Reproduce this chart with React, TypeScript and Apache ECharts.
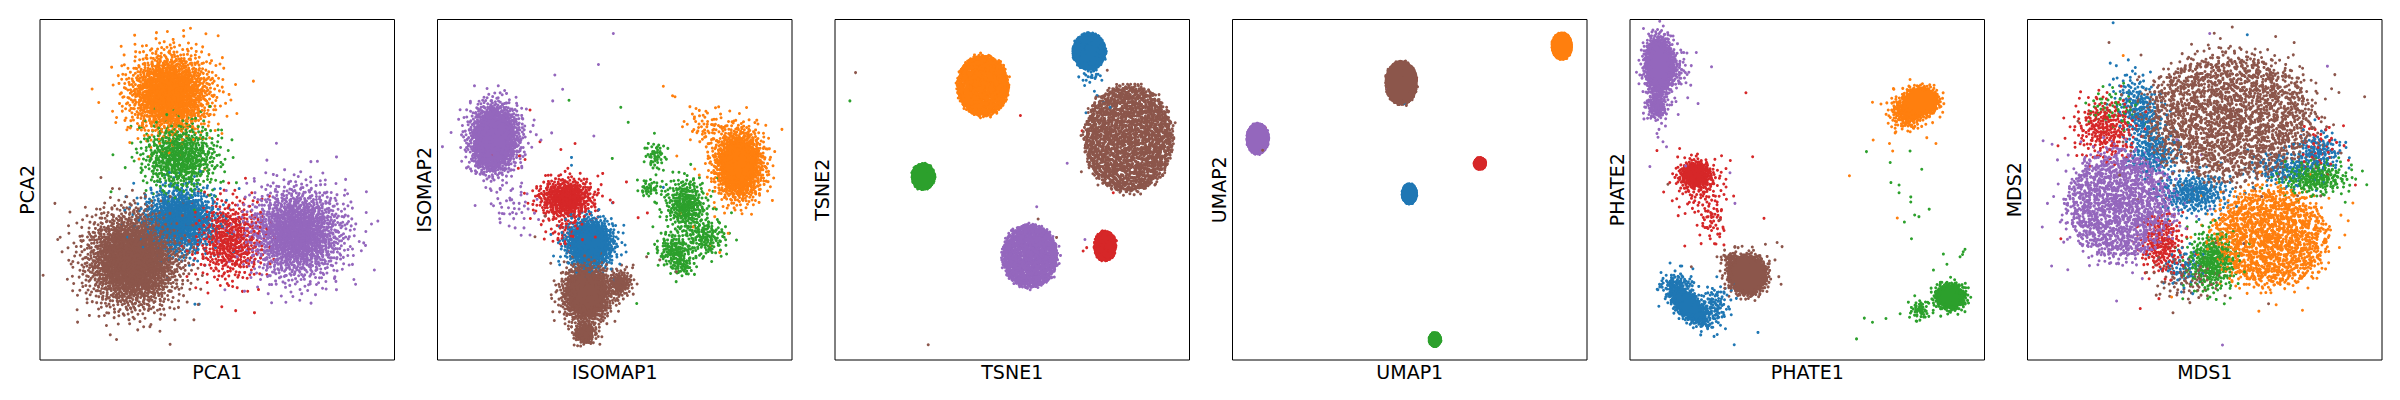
import { useEffect, useRef } from 'react';
import * as echarts from 'echarts';

// tab10 colours, one per class
const classColors = ['#1f77b4', '#ff7f0e', '#2ca02c', '#d62728', '#9467bd', '#8c564b'];
const xNames = ['PCA1', 'ISOMAP1', 'TSNE1', 'UMAP1', 'PHATE1', 'MDS1'];
const yNames = ['PCA2', 'ISOMAP2', 'TSNE2', 'UMAP2', 'PHATE2', 'MDS2'];

// cluster (axes run 0..100 in each panel):
// [class, cx, cy, sx, sy, count, kind (0 gaussian, >0 filled disc with that edge softness), rotation deg]
type Blob = [number, number, number, number, number, number, number, number?];
// single stray points: [class, x, y]
type Stray = [number, number, number];

const pcaBlobs: Blob[] = [
  [5, 26.3, 29.4, 6.6, 7.0, 2400, 0],
  [1, 36.7, 78.3, 5.8, 6.0, 1700, 0],
  [4, 72.4, 37.2, 6.8, 6.8, 1700, 0],
  [0, 39.5, 41.1, 5.2, 4.8, 1100, 0],
  [2, 39.5, 59.7, 5.4, 5.0, 700, 0],
  [3, 53.6, 35.2, 5.0, 6.0, 550, 0],
];
const pcaStray: Stray[] = [
  [5, 4.2, 46], [5, 5, 35.4], [5, 36.7, 4.6], [4, 95.3, 40.8], [4, 64, 58.7],
  [1, 60.2, 81.9], [1, 26.7, 95.4], [1, 46.8, 95.8], [3, 55.2, 14.5], [3, 60.5, 13.9],
  [0, 43.7, 16.4], [0, 44.9, 16.4],
];

const isomapBlobs: Blob[] = [
  [4, 16.2, 65.6, 3.5, 4.8, 1500, 0],
  [4, 14.8, 59.7, 2.5, 3.0, 200, 0],
  [4, 21.4, 45.0, 3.5, 3.5, 40, 0],
  [3, 36.3, 47.5, 4.0, 3.0, 550, 0],
  [3, 36.4, 38.2, 3.0, 3.0, 60, 0],
  [5, 42.1, 19.6, 3.2, 4.0, 1500, 0],
  [5, 51.5, 22.5, 1.8, 2.0, 150, 0],
  [5, 41.6, 7.8, 1.5, 1.5, 200, 0],
  [0, 43.0, 34.3, 3.3, 3.5, 1100, 0],
  [2, 70.0, 45.5, 3.0, 4.0, 320, 0],
  [2, 67.0, 32.3, 2.5, 2.5, 150, 0],
  [2, 69.0, 27.5, 1.8, 1.6, 50, 0],
  [2, 75.5, 36.0, 3.2, 3.0, 160, 0],
  [2, 61.5, 60.0, 1.5, 2.2, 50, 0],
  [2, 60.0, 50.5, 1.8, 1.5, 40, 0],
  [1, 85.0, 57.5, 3.4, 5.0, 1500, 0],
  [1, 75.9, 68.5, 3.0, 3.0, 60, 0],
];
const isomapStray: Stray[] = [
  [4, 49.6, 95.9], [4, 45.4, 86.8], [4, 33.1, 83.7], [4, 35.3, 79.5], [4, 32.5, 76.1],
  [4, 44.1, 65.8], [4, 29.2, 64.6], [4, 32.2, 66.7], [4, 17.7, 50.1], [4, 15.8, 45.3],
  [4, 20.5, 47], [4, 21.9, 38.8], [4, 24.4, 38.8], [4, 26.1, 36.7],
  [3, 28.9, 64.1], [3, 34.8, 61.8], [3, 38.8, 63.6], [3, 46.6, 54.8], [3, 53.3, 52.3],
  [3, 59.2, 43.2], [3, 56.6, 41.8], [3, 26.1, 73.4], [3, 15.5, 60.5], [3, 23.1, 59.9], [3, 24.7, 58.9],
  [2, 37.1, 76.3], [2, 51.7, 74.2], [2, 53.8, 69.8], [2, 49.3, 59.2], [2, 56.2, 16.6], [2, 62, 31.5], [2, 64, 35],
  [1, 63.7, 80.4], [1, 66.3, 77.6], [1, 67, 77.3], [1, 71.2, 74.4], [1, 69.1, 68.5], [1, 68.4, 43],
  [1, 72.1, 39.1], [1, 76.8, 33.3], [1, 79.6, 31.6], [1, 82, 37.2], [1, 78.2, 42.1],
  [5, 30.3, 42.3], [5, 27.5, 36.2], [5, 32.2, 18.1], [5, 55.2, 27.9], [5, 59, 30.3], [5, 62.7, 29.4], [5, 67.4, 25.9],
  [0, 37.8, 59.5], [0, 37.8, 57.2], [0, 63.7, 50.7],
];

const tsneBlobs: Blob[] = [
  [0, 71.7, 90.6, 4.6, 5.3, 1100, 0.04],
  [0, 72.3, 83.5, 1.8, 1.6, 25, 0],
  [1, 41.7, 80.6, 7.2, 8.9, 1700, 0.04],
  [5, 82.8, 65.0, 12.5, 15.8, 2400, 0.04],
  [2, 24.9, 53.9, 3.2, 3.8, 700, 0.04],
  [4, 55.0, 30.5, 7.8, 9.3, 1700, 0.04],
  [3, 76.2, 33.5, 3.1, 4.4, 550, 0.04],
];
const tsneStray: Stray[] = [
  [5, 5.8, 84.4], [5, 26.3, 4.5], [5, 57.3, 41.4], [5, 76.8, 85.1], [5, 69.5, 55.3], [5, 62.5, 36],
  [2, 4.2, 76.1],
  [3, 52.3, 71.8], [3, 70, 32], [3, 78.5, 49.1], [3, 69.7, 67.3], [3, 71, 33],
  [4, 65.5, 57.8], [4, 56.9, 45], [4, 70.5, 35.4], [4, 63.2, 33.4],
  [0, 77.6, 74.2], [0, 70.8, 72.6], [0, 73.9, 77.7], [0, 75.8, 75.6],
];

const umapBlobs: Blob[] = [
  [1, 92.9, 92.2, 2.7, 3.8, 1700, 0.04],
  [5, 47.6, 81.4, 4.3, 6.2, 2400, 0.04],
  [4, 7.1, 65.0, 3.0, 4.4, 1700, 0.04],
  [3, 69.8, 57.7, 1.6, 1.7, 550, 0.04],
  [0, 49.9, 48.8, 2.0, 2.9, 1100, 0.04],
  [2, 57.1, 6.0, 1.6, 2.0, 700, 0.04],
];
const umapStray: Stray[] = [
  [0, 47.9, 75.8], [0, 49.5, 76.2], [0, 48.5, 75.3], [0, 46.5, 76.5],
  [3, 51.9, 82.5], [3, 9.2, 68.3], [5, 8.5, 61.6], [4, 43.7, 79.5],
];

const phateBlobs: Blob[] = [
  [4, 8.2, 86.5, 1.9, 4.0, 1300, 0],
  [4, 7.5, 74.5, 1.5, 2.0, 150, 0],
  [4, 13.0, 85.0, 2.0, 3.0, 70, 0],
  [3, 18.5, 54.5, 2.3, 2.0, 380, 0],
  [3, 20.0, 50.0, 4.0, 4.0, 100, 0],
  [3, 23.0, 41.0, 1.8, 3.5, 50, 0],
  [5, 33.1, 25.0, 2.2, 2.3, 2400, 0],
  [5, 28.2, 29.8, 1.5, 1.0, 40, 0],
  [0, 16.5, 16.0, 3.5, 1.6, 700, 0, -45],
  [0, 24.0, 16.0, 2.0, 3.0, 100, 0],
  [0, 13.5, 22.5, 2.5, 1.6, 80, 0],
  [1, 82.2, 76.0, 2.0, 1.7, 1300, 0],
  [1, 78.5, 73.0, 2.5, 2.5, 300, 0],
  [2, 90.3, 18.6, 2.0, 1.8, 620, 0],
  [2, 81.8, 14.7, 1.5, 1.5, 50, 0],
];
const phateStray: Stray[] = [
  [4, 18.7, 90.3], [4, 23, 86.1], [4, 19.2, 75.3], [4, 13.6, 72.1], [4, 8.9, 69.5], [4, 10, 68.7],
  [4, 7.6, 66.5], [4, 7.9, 65.4], [4, 9.3, 64.1], [4, 10.3, 62.6], [4, 5.6, 56.8], [4, 29.6, 46],
  [4, 28.2, 55], [4, 15.7, 57],
  [3, 32.7, 78.5], [3, 7.6, 61.5], [3, 34.6, 59.7], [3, 28.3, 58.6], [3, 27.2, 47.2], [3, 37.8, 41.6],
  [3, 13.6, 42.4], [3, 19.7, 36.7], [3, 22, 38.6], [3, 26.3, 38.6], [3, 25.3, 36.2], [3, 26.5, 33.8], [3, 14, 62.1],
  [5, 25.3, 41.1], [5, 29.6, 33.3], [5, 30.5, 33], [5, 34.5, 33.2], [5, 38.2, 34], [5, 41.5, 34.5],
  [5, 42.9, 33.3], [5, 40.9, 29.4], [5, 17.3, 27.4], [5, 10.7, 51.6],
  [0, 29.4, 4.5], [0, 36.1, 8.1], [0, 24.6, 7.5], [0, 11.3, 28.5], [0, 14.2, 27.6], [0, 14.6, 27.6],
  [0, 29.1, 22.5], [0, 28.6, 20.5], [0, 30, 18.1], [0, 26.5, 20],
  [1, 68.4, 75.7], [1, 74.3, 79.7], [1, 79, 82.4], [1, 68.6, 64.6], [1, 61.9, 54.1], [1, 75.4, 41.7],
  [1, 86.3, 63.6], [1, 74.1, 61.4], [1, 73.2, 63.6], [1, 74.8, 66.7], [1, 73.8, 68.5],
  [2, 66.7, 61.2], [2, 73.4, 58], [2, 79, 61.4], [2, 82.3, 56], [2, 73.6, 52.1], [2, 75.9, 51.4],
  [2, 75.9, 49.1], [2, 79.2, 47.9], [2, 79.2, 46.4], [2, 84.4, 44.3], [2, 80.3, 42.6], [2, 81.5, 42.1],
  [2, 77.4, 40.5], [2, 79.4, 35.6], [2, 88.4, 31.1], [2, 89.4, 28.1], [2, 94, 31.8], [2, 93.1, 30.3],
  [2, 85.6, 26.4], [2, 80.4, 16.1], [2, 80.9, 11.4], [2, 76.2, 13.6], [2, 72.2, 12.2], [2, 68.4, 11.1],
  [2, 66.1, 12.3], [2, 63.9, 6.2], [2, 93.8, 31], [2, 94.5, 32.5],
];

const mdsBlobs: Blob[] = [
  [5, 57.0, 71.5, 23.0, 18.0, 2100, 0.12],
  [5, 57.0, 70.0, 14.0, 10.0, 300, 0],
  [5, 45.0, 24.0, 5.0, 3.5, 100, 0],
  [4, 26.2, 45.7, 14.5, 15.5, 1500, 0.12],
  [4, 26.2, 45.7, 9.0, 9.0, 200, 0],
  [1, 68.3, 36.0, 15.5, 14.0, 1500, 0.12],
  [1, 68.3, 36.0, 9.0, 8.0, 200, 0],
  [0, 32.0, 72.0, 6.5, 3.0, 300, 0, -72],
  [0, 36.0, 60.0, 3.5, 3.0, 150, 0],
  [0, 47.0, 49.0, 5.0, 3.0, 300, 0],
  [0, 73.0, 56.0, 5.0, 2.5, 150, 0],
  [0, 82.0, 61.0, 3.5, 3.0, 150, 0],
  [0, 44.0, 27.0, 3.0, 3.0, 80, 0],
  [3, 22.0, 68.0, 4.5, 4.5, 280, 0],
  [3, 38.0, 34.0, 3.0, 4.5, 220, 0],
  [3, 82.0, 63.0, 3.5, 4.0, 50, 0],
  [2, 81.0, 53.5, 5.0, 2.5, 250, 0],
  [2, 52.0, 29.0, 3.5, 4.5, 350, 0],
  [2, 24.0, 74.0, 4.0, 3.0, 60, 0],
];
const mdsStray: Stray[] = [
  [5, 95.1, 77.3], [5, 68, 16.5], [5, 54.4, 94.4], [5, 70, 95],
  [4, 55, 4.4], [4, 6.8, 27.6], [4, 4.4, 64.4], [4, 51.4, 95.9], [4, 84.6, 86.3],
  [3, 9.4, 35.6], [3, 31.8, 15.1], [3, 92.5, 51.4],
  [0, 62, 95.5], [1, 27, 89.4],
];

const panelBlobs = [pcaBlobs, isomapBlobs, tsneBlobs, umapBlobs, phateBlobs, mdsBlobs];
const panelStrays = [pcaStray, isomapStray, tsneStray, umapStray, phateStray, mdsStray];

const LAYERS = 4; // classes are drawn in interleaved layers, like a shuffled scatter

// low-discrepancy sequence used to lay out the points inside each read-off cluster
const halton = (i: number, b: number) => {
  let f = 1;
  let r = 0;
  let k = i;
  while (k > 0) {
    f /= b;
    r += f * (k % b);
    k = Math.floor(k / b);
  }
  return r;
};

const blobPoints = (blob: Blob, seed: number): [number, number][] => {
  const [, cx, cy, sx, sy, n, kind, rot = 0] = blob;
  const a = (rot * Math.PI) / 180;
  const ca = Math.cos(a);
  const sa = Math.sin(a);
  const pts: [number, number][] = [];
  for (let k = 0; k < n; k++) {
    const i = seed + k + 1;
    const u = halton(i, 2);
    const v = halton(i, 3);
    let r: number;
    if (kind > 0) {
      // filled disc with a blurred rim
      const g = Math.sqrt(-2 * Math.log(1 - halton(i, 5))) * Math.cos(2 * Math.PI * halton(i, 7));
      r = Math.sqrt(u) + kind * g;
    } else {
      r = Math.sqrt(-2 * Math.log(1 - u));
    }
    const t = 2 * Math.PI * v + seed * 0.37;
    const dx = r * Math.cos(t) * sx;
    const dy = r * Math.sin(t) * sy;
    pts.push([cx + dx * ca - dy * sa, cy + dx * sa + dy * ca]);
  }
  return pts;
};

const GRID_LEFT = 40;
const GRID_STEP = 397.5;
const GRID_TOP = 19.5;
const GRID_W = 354.5;
const GRID_H = 340.5;
const FONT = 'DejaVu Sans';

const buildOptions = () => {
  const grid: any[] = [];
  const xAxis: any[] = [];
  const yAxis: any[] = [];
  const series: any[] = [];

  panelBlobs.forEach((blobs, p) => {
    grid.push({
      left: GRID_LEFT + p * GRID_STEP,
      top: GRID_TOP,
      width: GRID_W,
      height: GRID_H,
      show: true,
      borderColor: '#000',
      borderWidth: 1,
      backgroundColor: 'transparent',
    });
    const axisCommon = {
      type: 'value',
      min: 0,
      max: 100,
      gridIndex: p,
      nameLocation: 'middle',
      nameTextStyle: { fontSize: 19, color: '#000', fontFamily: FONT },
      axisLine: { show: false },
      axisTick: { show: false },
      axisLabel: { show: false },
      splitLine: { show: false },
    };
    xAxis.push({ ...axisCommon, name: xNames[p], nameGap: 2 });
    yAxis.push({ ...axisCommon, name: yNames[p], nameGap: 4 });

    const layers: [number, number][][][] = Array.from({ length: LAYERS }, () => classColors.map(() => []));
    blobs.forEach((b, bi) => {
      const pts = blobPoints(b, p * 40000 + bi * 3001);
      pts.forEach((pt, j) => {
        layers[Math.floor((j * LAYERS) / pts.length)][b[0]].push(pt);
      });
    });
    panelStrays[p].forEach(([c, x, y]) => layers[LAYERS - 1][c].push([x, y]));

    layers.forEach((byClass) => {
      byClass.forEach((data, c) => {
        if (!data.length) return;
        series.push({
          type: 'scatter',
          xAxisIndex: p,
          yAxisIndex: p,
          data,
          symbol: 'circle',
          symbolSize: 3,
          itemStyle: { color: classColors[c], opacity: 1 },
          large: true,
          largeThreshold: 10,
          progressive: 0,
          silent: true,
        });
      });
    });
  });

  return { animation: false, backgroundColor: '#fff', grid, xAxis, yAxis, series };
};

export default function App() {
  const chartRef = useRef<HTMLDivElement | null>(null);

  useEffect(() => {
    if (!chartRef.current) return undefined;
    const chart = echarts.init(chartRef.current, null, { renderer: 'svg' });
    chart.setOption(buildOptions());
    return () => chart.dispose();
  }, []);

  return (
    <div
      ref={chartRef}
      style={{ position: 'fixed', left: 0, top: 0, width: 2400, height: 400, background: '#fff' }}
    />
  );
}
